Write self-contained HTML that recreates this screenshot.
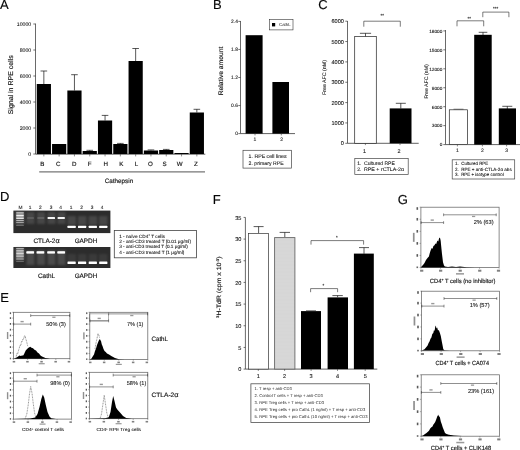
<!DOCTYPE html>
<html><head><meta charset="utf-8"><title>Figure</title>
<style>
html,body{margin:0;padding:0;background:#fff;}
body{width:520px;height:450px;overflow:hidden;font-family:"Liberation Sans",sans-serif;}
svg{display:block;filter:blur(0.3px);}
svg text{font-family:"Liberation Sans",sans-serif;text-rendering:geometricPrecision;}
svg text.b{stroke:#222;stroke-width:0.16px;}
svg text.m{stroke:#222;stroke-width:0.09px;}
</style></head><body>
<svg width="520" height="450" viewBox="0 0 520 450">
<rect width="520" height="450" fill="#fff"/>
<text x="0" y="9.3" font-size="13" text-anchor="start" fill="#000" class="b" >A</text>
<text x="212.9" y="9.3" font-size="13" text-anchor="start" fill="#000" class="b" >B</text>
<text x="318.2" y="9.4" font-size="13" text-anchor="start" fill="#000" class="b" >C</text>
<text x="0" y="201" font-size="13" text-anchor="start" fill="#000" class="b" >D</text>
<text x="0.2" y="301.9" font-size="13" text-anchor="start" fill="#000" class="b" >E</text>
<text x="212.7" y="203.5" font-size="13" text-anchor="start" fill="#000" class="b" >F</text>
<text x="397.8" y="203.6" font-size="13" text-anchor="start" fill="#000" class="b" >G</text>
<line x1="35.5" y1="23.6" x2="35.5" y2="154" stroke="#383838" stroke-width="0.75"/>
<line x1="35.5" y1="154.2" x2="205.3" y2="154.2" stroke="#383838" stroke-width="0.8"/>
<line x1="33.3" y1="154" x2="35.5" y2="154" stroke="#383838" stroke-width="0.7"/>
<text x="31.2" y="155.9" font-size="5.2" text-anchor="end" fill="#111" class="m" >0</text>
<line x1="33.3" y1="128" x2="35.5" y2="128" stroke="#383838" stroke-width="0.7"/>
<text x="31.2" y="129.9" font-size="5.2" text-anchor="end" fill="#111" class="m" >2000</text>
<line x1="33.3" y1="102" x2="35.5" y2="102" stroke="#383838" stroke-width="0.7"/>
<text x="31.2" y="103.9" font-size="5.2" text-anchor="end" fill="#111" class="m" >4000</text>
<line x1="33.3" y1="76" x2="35.5" y2="76" stroke="#383838" stroke-width="0.7"/>
<text x="31.2" y="77.9" font-size="5.2" text-anchor="end" fill="#111" class="m" >6000</text>
<line x1="33.3" y1="50" x2="35.5" y2="50" stroke="#383838" stroke-width="0.7"/>
<text x="31.2" y="51.9" font-size="5.2" text-anchor="end" fill="#111" class="m" >8000</text>
<line x1="33.3" y1="24" x2="35.5" y2="24" stroke="#383838" stroke-width="0.7"/>
<text x="31.2" y="25.9" font-size="5.2" text-anchor="end" fill="#111" class="m" >10000</text>
<text transform="translate(13.4,84.8) rotate(-90)" font-size="6.9" text-anchor="middle" fill="#111" textLength="59" lengthAdjust="spacingAndGlyphs" class="b">Signal in RPE cells</text>
<line x1="43.85" y1="71" x2="43.85" y2="84" stroke="#111" stroke-width="0.7"/>
<line x1="40.550000000000004" y1="71" x2="47.15" y2="71" stroke="#111" stroke-width="0.7"/>
<rect x="36.75" y="84" width="14.2" height="70" fill="#000" stroke="none" stroke-width="0.8"/>
<line x1="43.85" y1="154" x2="43.85" y2="156.4" stroke="#444" stroke-width="0.6"/>
<text x="42.3" y="166.4" font-size="6.2" text-anchor="middle" fill="#111" class="b" >B</text>
<rect x="52.050000000000004" y="144" width="14.2" height="10" fill="#000" stroke="none" stroke-width="0.8"/>
<line x1="59.150000000000006" y1="154" x2="59.150000000000006" y2="156.4" stroke="#444" stroke-width="0.6"/>
<text x="58.2" y="166.4" font-size="6.2" text-anchor="middle" fill="#111" class="b" >C</text>
<line x1="74.45" y1="74.7" x2="74.45" y2="90.5" stroke="#111" stroke-width="0.7"/>
<line x1="71.15" y1="74.7" x2="77.75" y2="74.7" stroke="#111" stroke-width="0.7"/>
<rect x="67.35000000000001" y="90.5" width="14.2" height="63.5" fill="#000" stroke="none" stroke-width="0.8"/>
<line x1="74.45" y1="154" x2="74.45" y2="156.4" stroke="#444" stroke-width="0.6"/>
<text x="74.2" y="166.4" font-size="6.2" text-anchor="middle" fill="#111" class="b" >D</text>
<line x1="89.75" y1="150.3" x2="89.75" y2="151" stroke="#111" stroke-width="0.7"/>
<line x1="86.45" y1="150.3" x2="93.05" y2="150.3" stroke="#111" stroke-width="0.7"/>
<rect x="82.65" y="151" width="14.2" height="3" fill="#000" stroke="none" stroke-width="0.8"/>
<line x1="89.75" y1="154" x2="89.75" y2="156.4" stroke="#444" stroke-width="0.6"/>
<text x="89.6" y="166.4" font-size="6.2" text-anchor="middle" fill="#111" class="b" >F</text>
<line x1="105.05000000000001" y1="115.4" x2="105.05000000000001" y2="120.5" stroke="#111" stroke-width="0.7"/>
<line x1="101.75000000000001" y1="115.4" x2="108.35000000000001" y2="115.4" stroke="#111" stroke-width="0.7"/>
<rect x="97.95000000000002" y="120.5" width="14.2" height="33.5" fill="#000" stroke="none" stroke-width="0.8"/>
<line x1="105.05000000000001" y1="154" x2="105.05000000000001" y2="156.4" stroke="#444" stroke-width="0.6"/>
<text x="105.8" y="166.4" font-size="6.2" text-anchor="middle" fill="#111" class="b" >H</text>
<line x1="120.35" y1="143.4" x2="120.35" y2="144" stroke="#111" stroke-width="0.7"/>
<line x1="117.05" y1="143.4" x2="123.64999999999999" y2="143.4" stroke="#111" stroke-width="0.7"/>
<rect x="113.25" y="144" width="14.2" height="10" fill="#000" stroke="none" stroke-width="0.8"/>
<line x1="120.35" y1="154" x2="120.35" y2="156.4" stroke="#444" stroke-width="0.6"/>
<text x="121.2" y="166.4" font-size="6.2" text-anchor="middle" fill="#111" class="b" >K</text>
<line x1="135.65" y1="48.5" x2="135.65" y2="61" stroke="#111" stroke-width="0.7"/>
<line x1="132.35" y1="48.5" x2="138.95000000000002" y2="48.5" stroke="#111" stroke-width="0.7"/>
<rect x="128.55" y="61" width="14.2" height="93" fill="#000" stroke="none" stroke-width="0.8"/>
<line x1="135.65" y1="154" x2="135.65" y2="156.4" stroke="#444" stroke-width="0.6"/>
<text x="136.6" y="166.4" font-size="6.2" text-anchor="middle" fill="#111" class="b" >L</text>
<line x1="150.95000000000002" y1="149.9" x2="150.95000000000002" y2="150.5" stroke="#111" stroke-width="0.7"/>
<line x1="147.65" y1="149.9" x2="154.25000000000003" y2="149.9" stroke="#111" stroke-width="0.7"/>
<rect x="143.85000000000002" y="150.5" width="14.2" height="3.5" fill="#000" stroke="none" stroke-width="0.8"/>
<line x1="150.95000000000002" y1="154" x2="150.95000000000002" y2="156.4" stroke="#444" stroke-width="0.6"/>
<text x="150.3" y="166.4" font-size="6.2" text-anchor="middle" fill="#111" class="b" >O</text>
<line x1="166.25" y1="149.4" x2="166.25" y2="150" stroke="#111" stroke-width="0.7"/>
<line x1="162.95" y1="149.4" x2="169.55" y2="149.4" stroke="#111" stroke-width="0.7"/>
<rect x="159.15" y="150" width="14.2" height="4" fill="#000" stroke="none" stroke-width="0.8"/>
<line x1="166.25" y1="154" x2="166.25" y2="156.4" stroke="#444" stroke-width="0.6"/>
<text x="164.6" y="166.4" font-size="6.2" text-anchor="middle" fill="#111" class="b" >S</text>
<rect x="174.45000000000002" y="153" width="14.2" height="1" fill="#000" stroke="none" stroke-width="0.8"/>
<line x1="181.55" y1="154" x2="181.55" y2="156.4" stroke="#444" stroke-width="0.6"/>
<text x="179.6" y="166.4" font-size="6.2" text-anchor="middle" fill="#111" class="b" >W</text>
<line x1="196.85" y1="109.3" x2="196.85" y2="112.5" stroke="#111" stroke-width="0.7"/>
<line x1="193.54999999999998" y1="109.3" x2="200.15" y2="109.3" stroke="#111" stroke-width="0.7"/>
<rect x="189.75" y="112.5" width="14.2" height="41.5" fill="#000" stroke="none" stroke-width="0.8"/>
<line x1="196.85" y1="154" x2="196.85" y2="156.4" stroke="#444" stroke-width="0.6"/>
<text x="195.8" y="166.4" font-size="6.2" text-anchor="middle" fill="#111" class="b" >Z</text>
<line x1="39.2" y1="171.8" x2="205" y2="171.8" stroke="#777" stroke-width="1.3"/>
<text x="119" y="183" font-size="6.3" text-anchor="middle" fill="#111" class="b" >Cathepsin</text>
<line x1="240.5" y1="21" x2="240.5" y2="133.6" stroke="#383838" stroke-width="0.75"/>
<line x1="240.5" y1="133.6" x2="295" y2="133.6" stroke="#383838" stroke-width="0.8"/>
<line x1="238.3" y1="133.6" x2="240.5" y2="133.6" stroke="#383838" stroke-width="0.7"/>
<text x="237.9" y="135.4" font-size="4.9" text-anchor="end" fill="#111" class="m" >0</text>
<line x1="238.3" y1="105.55" x2="240.5" y2="105.55" stroke="#383838" stroke-width="0.7"/>
<text x="237.9" y="107.35" font-size="4.9" text-anchor="end" fill="#111" class="m" >0.6</text>
<line x1="238.3" y1="77.5" x2="240.5" y2="77.5" stroke="#383838" stroke-width="0.7"/>
<text x="237.9" y="79.3" font-size="4.9" text-anchor="end" fill="#111" class="m" >1.2</text>
<line x1="238.3" y1="49.44999999999999" x2="240.5" y2="49.44999999999999" stroke="#383838" stroke-width="0.7"/>
<text x="237.9" y="51.249999999999986" font-size="4.9" text-anchor="end" fill="#111" class="m" >1.8</text>
<line x1="238.3" y1="21.39999999999999" x2="240.5" y2="21.39999999999999" stroke="#383838" stroke-width="0.7"/>
<text x="237.9" y="23.199999999999992" font-size="4.9" text-anchor="end" fill="#111" class="m" >2.4</text>
<text transform="translate(223.3,71) rotate(-90)" font-size="6.5" text-anchor="middle" fill="#111" textLength="48.6" lengthAdjust="spacingAndGlyphs" class="b">Relative amount</text>
<rect x="245.6" y="35.2" width="17" height="98.39999999999999" fill="#000" stroke="none" stroke-width="0.8"/>
<rect x="272.4" y="82" width="16.6" height="51.599999999999994" fill="#000" stroke="none" stroke-width="0.8"/>
<line x1="255" y1="133.6" x2="255" y2="135.4" stroke="#383838" stroke-width="0.6"/>
<line x1="281.3" y1="133.6" x2="281.3" y2="135.4" stroke="#383838" stroke-width="0.6"/>
<text x="255" y="141.2" font-size="5" text-anchor="middle" fill="#111" class="m" >1</text>
<text x="281.6" y="141.2" font-size="5" text-anchor="middle" fill="#111" class="m" >2</text>
<rect x="269.5" y="19.5" width="23.5" height="10.4" fill="#fff" stroke="#333" stroke-width="0.6"/>
<rect x="272" y="23" width="3.2" height="3.4" fill="#000" stroke="none" stroke-width="0.8"/>
<text x="279" y="26.3" font-size="4.3" text-anchor="start" fill="#111" textLength="11.6" lengthAdjust="spacingAndGlyphs" >CathL</text>
<rect x="243" y="150.3" width="48.4" height="17.8" fill="#fff" stroke="#444" stroke-width="0.7"/>
<text x="248.6" y="158.3" font-size="5.2" text-anchor="start" fill="#111" textLength="38" lengthAdjust="spacingAndGlyphs" class="m" >1. RPE cell lines</text>
<text x="248.6" y="164.5" font-size="5.2" text-anchor="start" fill="#111" textLength="35" lengthAdjust="spacingAndGlyphs" class="m" >2. primary RPE</text>
<line x1="347.5" y1="21" x2="347.5" y2="143.3" stroke="#383838" stroke-width="0.75"/>
<line x1="347.5" y1="143.3" x2="418.7" y2="143.3" stroke="#383838" stroke-width="0.8"/>
<line x1="345.3" y1="143.3" x2="347.5" y2="143.3" stroke="#383838" stroke-width="0.7"/>
<text x="343.9" y="145.4" font-size="5.6" text-anchor="end" fill="#111" class="m" >0</text>
<line x1="345.3" y1="122.95000000000002" x2="347.5" y2="122.95000000000002" stroke="#383838" stroke-width="0.7"/>
<text x="343.9" y="125.05000000000001" font-size="5.6" text-anchor="end" fill="#111" class="m" >1000</text>
<line x1="345.3" y1="102.60000000000001" x2="347.5" y2="102.60000000000001" stroke="#383838" stroke-width="0.7"/>
<text x="343.9" y="104.7" font-size="5.6" text-anchor="end" fill="#111" class="m" >2000</text>
<line x1="345.3" y1="82.25" x2="347.5" y2="82.25" stroke="#383838" stroke-width="0.7"/>
<text x="343.9" y="84.35" font-size="5.6" text-anchor="end" fill="#111" class="m" >3000</text>
<line x1="345.3" y1="61.900000000000006" x2="347.5" y2="61.900000000000006" stroke="#383838" stroke-width="0.7"/>
<text x="343.9" y="64.0" font-size="5.6" text-anchor="end" fill="#111" class="m" >4000</text>
<line x1="345.3" y1="41.55000000000001" x2="347.5" y2="41.55000000000001" stroke="#383838" stroke-width="0.7"/>
<text x="343.9" y="43.65000000000001" font-size="5.6" text-anchor="end" fill="#111" class="m" >5000</text>
<line x1="345.3" y1="21.200000000000003" x2="347.5" y2="21.200000000000003" stroke="#383838" stroke-width="0.7"/>
<text x="343.9" y="23.300000000000004" font-size="5.6" text-anchor="end" fill="#111" class="m" >6000</text>
<text transform="translate(326.2,77.5) rotate(-90)" font-size="5.2" text-anchor="middle" fill="#111" textLength="35" lengthAdjust="spacingAndGlyphs" class="m">Free AFC (nM)</text>
<line x1="365.5" y1="33.3" x2="365.5" y2="37" stroke="#111" stroke-width="0.7"/>
<line x1="359.9" y1="33.3" x2="371.1" y2="33.3" stroke="#111" stroke-width="0.7"/>
<rect x="354.7" y="36.4" width="21.6" height="106.9" fill="#fff" stroke="#222" stroke-width="0.7"/>
<line x1="400.8" y1="103.3" x2="400.8" y2="108.5" stroke="#111" stroke-width="0.7"/>
<line x1="395.8" y1="103.3" x2="405.8" y2="103.3" stroke="#111" stroke-width="0.7"/>
<rect x="389.7" y="108.4" width="21.8" height="34.900000000000006" fill="#000" stroke="none" stroke-width="0.8"/>
<polyline points="363.8,26.7 363.8,21.2 400.3,21.2 400.3,26.7" fill="none" stroke="#222" stroke-width="0.6"/>
<text x="382.3" y="17" font-size="4.5" text-anchor="middle" fill="#111" class="m" >**</text>
<line x1="365.4" y1="143.3" x2="365.4" y2="145.10000000000002" stroke="#383838" stroke-width="0.6"/>
<line x1="400" y1="143.3" x2="400" y2="145.10000000000002" stroke="#383838" stroke-width="0.6"/>
<text x="364.5" y="152.7" font-size="5.4" text-anchor="middle" fill="#111" class="m" >1</text>
<text x="399" y="152.7" font-size="5.4" text-anchor="middle" fill="#111" class="m" >2</text>
<rect x="354.8" y="158.5" width="53.4" height="15.9" fill="#fff" stroke="#444" stroke-width="0.7"/>
<text x="357.2" y="164.6" font-size="5.1" text-anchor="start" fill="#111" class="m" >1.</text>
<text x="364" y="164.6" font-size="5.1" text-anchor="start" fill="#111" textLength="30.8" lengthAdjust="spacingAndGlyphs" class="m" >Cultured RPE</text>
<text x="357.2" y="170.6" font-size="5.1" text-anchor="start" fill="#111" class="m" >2.</text>
<text x="364" y="170.6" font-size="5.1" text-anchor="start" fill="#111" textLength="40" lengthAdjust="spacingAndGlyphs" class="m" >RPE + rCTLA-2α</text>
<line x1="445.5" y1="30" x2="445.5" y2="144.6" stroke="#383838" stroke-width="0.75"/>
<line x1="445.5" y1="144.6" x2="520" y2="144.6" stroke="#383838" stroke-width="0.8"/>
<line x1="443.3" y1="144.6" x2="445.5" y2="144.6" stroke="#383838" stroke-width="0.7"/>
<text x="442.3" y="146.4" font-size="4.7" text-anchor="end" fill="#111" class="m" >0</text>
<line x1="443.3" y1="125.64999999999999" x2="445.5" y2="125.64999999999999" stroke="#383838" stroke-width="0.7"/>
<text x="442.3" y="127.44999999999999" font-size="4.7" text-anchor="end" fill="#111" class="m" >3000</text>
<line x1="443.3" y1="106.69999999999999" x2="445.5" y2="106.69999999999999" stroke="#383838" stroke-width="0.7"/>
<text x="442.3" y="108.49999999999999" font-size="4.7" text-anchor="end" fill="#111" class="m" >6000</text>
<line x1="443.3" y1="87.75" x2="445.5" y2="87.75" stroke="#383838" stroke-width="0.7"/>
<text x="442.3" y="89.55" font-size="4.7" text-anchor="end" fill="#111" class="m" >9000</text>
<line x1="443.3" y1="68.8" x2="445.5" y2="68.8" stroke="#383838" stroke-width="0.7"/>
<text x="442.3" y="70.6" font-size="4.7" text-anchor="end" fill="#111" class="m" >12000</text>
<line x1="443.3" y1="49.849999999999994" x2="445.5" y2="49.849999999999994" stroke="#383838" stroke-width="0.7"/>
<text x="442.3" y="51.64999999999999" font-size="4.7" text-anchor="end" fill="#111" class="m" >15000</text>
<line x1="443.3" y1="30.900000000000006" x2="445.5" y2="30.900000000000006" stroke="#383838" stroke-width="0.7"/>
<text x="442.3" y="32.7" font-size="4.7" text-anchor="end" fill="#111" class="m" >18000</text>
<text transform="translate(427.8,81.5) rotate(-90)" font-size="5.2" text-anchor="middle" fill="#111" textLength="34.7" lengthAdjust="spacingAndGlyphs" class="m">Free AFC (nM)</text>
<rect x="449.3" y="109.8" width="18.2" height="34.8" fill="#fff" stroke="#222" stroke-width="0.7"/>
<line x1="453.5" y1="109.2" x2="463.5" y2="109.2" stroke="#383838" stroke-width="0.6"/>
<line x1="483" y1="32.3" x2="483" y2="35.5" stroke="#111" stroke-width="0.7"/>
<line x1="478.7" y1="32.3" x2="487.3" y2="32.3" stroke="#111" stroke-width="0.7"/>
<rect x="474.2" y="34.8" width="17.5" height="109.8" fill="#000" stroke="none" stroke-width="0.8"/>
<line x1="507.3" y1="106.3" x2="507.3" y2="109" stroke="#111" stroke-width="0.7"/>
<line x1="502.3" y1="106.3" x2="512.3" y2="106.3" stroke="#111" stroke-width="0.7"/>
<rect x="498.8" y="108.4" width="17.2" height="36.19999999999999" fill="#000" stroke="none" stroke-width="0.8"/>
<polyline points="457,26.3 457,20.8 483.7,20.8 483.7,26.3" fill="none" stroke="#222" stroke-width="0.6"/>
<text x="469.3" y="20.2" font-size="4.5" text-anchor="middle" fill="#111" class="m" >**</text>
<polyline points="482.8,17.2 482.8,12.1 508.9,12.1 508.9,17.2" fill="none" stroke="#222" stroke-width="0.6"/>
<text x="495.6" y="9.6" font-size="4.5" text-anchor="middle" fill="#111" class="m" >***</text>
<line x1="457.4" y1="144.6" x2="457.4" y2="146.4" stroke="#383838" stroke-width="0.6"/>
<text x="457.4" y="152.3" font-size="5" text-anchor="middle" fill="#111" class="m" >1</text>
<line x1="482.4" y1="144.6" x2="482.4" y2="146.4" stroke="#383838" stroke-width="0.6"/>
<text x="482.4" y="152.3" font-size="5" text-anchor="middle" fill="#111" class="m" >2</text>
<line x1="506.6" y1="144.6" x2="506.6" y2="146.4" stroke="#383838" stroke-width="0.6"/>
<text x="506.6" y="152.3" font-size="5" text-anchor="middle" fill="#111" class="m" >3</text>
<rect x="452.2" y="159.8" width="62.5" height="19.2" fill="#fff" stroke="#444" stroke-width="0.7"/>
<text x="455.1" y="165" font-size="4.5" text-anchor="start" fill="#111" class="m" >1.</text>
<text x="461.2" y="165" font-size="4.5" text-anchor="start" fill="#111" textLength="27.1" lengthAdjust="spacingAndGlyphs" class="m" >Cultured RPE</text>
<text x="455.1" y="170.7" font-size="4.5" text-anchor="start" fill="#111" class="m" >2.</text>
<text x="461.2" y="170.7" font-size="4.5" text-anchor="start" fill="#111" textLength="50.5" lengthAdjust="spacingAndGlyphs" class="m" >RPE + anti-CTLA-2α abs</text>
<text x="455.1" y="176.2" font-size="4.5" text-anchor="start" fill="#111" class="m" >3.</text>
<text x="461.2" y="176.2" font-size="4.5" text-anchor="start" fill="#111" textLength="42.5" lengthAdjust="spacingAndGlyphs" class="m" >RPE + isotype control</text>
<defs><filter id="bl" x="-20%" y="-50%" width="140%" height="200%"><feGaussianBlur stdDeviation="0.45"/></filter><filter id="bl2" x="-20%" y="-20%" width="140%" height="140%"><feGaussianBlur stdDeviation="1.2"/></filter></defs>
<rect x="13.4" y="210.6" width="97" height="22.5" fill="#2c2c2c" stroke="none" stroke-width="0.8"/>
<rect x="13.4" y="247" width="97" height="21" fill="#2c2c2c" stroke="none" stroke-width="0.8"/>
<text x="20.4" y="208.7" font-size="4.8" text-anchor="middle" fill="#111" class="m" >M</text>
<text x="30.2" y="208.7" font-size="4.8" text-anchor="middle" fill="#111" class="m" >1</text>
<text x="40.3" y="208.7" font-size="4.8" text-anchor="middle" fill="#111" class="m" >2</text>
<text x="51" y="208.7" font-size="4.8" text-anchor="middle" fill="#111" class="m" >3</text>
<text x="60.5" y="208.7" font-size="4.8" text-anchor="middle" fill="#111" class="m" >4</text>
<text x="71" y="208.7" font-size="4.8" text-anchor="middle" fill="#111" class="m" >1</text>
<text x="81.5" y="208.7" font-size="4.8" text-anchor="middle" fill="#111" class="m" >2</text>
<text x="92" y="208.7" font-size="4.8" text-anchor="middle" fill="#111" class="m" >3</text>
<text x="102" y="208.7" font-size="4.8" text-anchor="middle" fill="#111" class="m" >4</text>
<g>
<rect x="26.5" y="212" width="8" height="12" rx="0.5" fill="#777" opacity="0.35" filter="url(#bl2)"/>
<rect x="37" y="212" width="8" height="12" rx="0.5" fill="#777" opacity="0.35" filter="url(#bl2)"/>
<rect x="47.5" y="212" width="8" height="12" rx="0.5" fill="#777" opacity="0.35" filter="url(#bl2)"/>
<rect x="57.5" y="212" width="8" height="12" rx="0.5" fill="#777" opacity="0.35" filter="url(#bl2)"/>
<rect x="67.5" y="216" width="8.5" height="9" rx="0.5" fill="#777" opacity="0.35" filter="url(#bl2)"/>
<rect x="78" y="216" width="8.5" height="9" rx="0.5" fill="#777" opacity="0.35" filter="url(#bl2)"/>
<rect x="88.7" y="216" width="8.5" height="9" rx="0.5" fill="#777" opacity="0.35" filter="url(#bl2)"/>
<rect x="99" y="216" width="8.5" height="9" rx="0.5" fill="#777" opacity="0.35" filter="url(#bl2)"/>
<rect x="26.5" y="250" width="8" height="15" rx="0.5" fill="#777" opacity="0.4" filter="url(#bl2)"/>
<rect x="37" y="250" width="8" height="15" rx="0.5" fill="#777" opacity="0.4" filter="url(#bl2)"/>
<rect x="47.5" y="250" width="8" height="15" rx="0.5" fill="#777" opacity="0.4" filter="url(#bl2)"/>
<rect x="57.5" y="250" width="8" height="15" rx="0.5" fill="#777" opacity="0.4" filter="url(#bl2)"/>
<rect x="67.5" y="254" width="8.5" height="8" rx="0.5" fill="#666" opacity="0.25" filter="url(#bl2)"/>
<rect x="78" y="254" width="8.5" height="8" rx="0.5" fill="#666" opacity="0.25" filter="url(#bl2)"/>
<rect x="88.7" y="254" width="8.5" height="8" rx="0.5" fill="#666" opacity="0.25" filter="url(#bl2)"/>
<rect x="99" y="254" width="8.5" height="8" rx="0.5" fill="#666" opacity="0.25" filter="url(#bl2)"/>
</g>
<rect x="15.6" y="211.2" width="8.6" height="13" rx="0.5" fill="#888" opacity="0.5" filter="url(#bl2)"/>
<rect x="16" y="211.9" width="8" height="0.9" rx="0.5" fill="#fff" opacity="0.7" filter="url(#bl)"/>
<rect x="16" y="213.5" width="8" height="0.9" rx="0.5" fill="#fff" opacity="0.8" filter="url(#bl)"/>
<rect x="16" y="215.1" width="8" height="0.9" rx="0.5" fill="#fff" opacity="0.9" filter="url(#bl)"/>
<rect x="16" y="216.5" width="8" height="0.9" rx="0.5" fill="#fff" opacity="1" filter="url(#bl)"/>
<rect x="16" y="218.1" width="8" height="0.9" rx="0.5" fill="#fff" opacity="0.85" filter="url(#bl)"/>
<rect x="16" y="219.9" width="8" height="0.9" rx="0.5" fill="#fff" opacity="0.75" filter="url(#bl)"/>
<rect x="16" y="222.2" width="8" height="0.9" rx="0.5" fill="#fff" opacity="0.6" filter="url(#bl)"/>
<rect x="16" y="224.79999999999998" width="8" height="0.9" rx="0.5" fill="#fff" opacity="0.35" filter="url(#bl)"/>
<rect x="15.6" y="247.6" width="8.6" height="13" rx="0.5" fill="#888" opacity="0.5" filter="url(#bl2)"/>
<rect x="16" y="248.3" width="8" height="0.9" rx="0.5" fill="#fff" opacity="0.7" filter="url(#bl)"/>
<rect x="16" y="249.9" width="8" height="0.9" rx="0.5" fill="#fff" opacity="0.8" filter="url(#bl)"/>
<rect x="16" y="251.5" width="8" height="0.9" rx="0.5" fill="#fff" opacity="0.9" filter="url(#bl)"/>
<rect x="16" y="252.9" width="8" height="0.9" rx="0.5" fill="#fff" opacity="1" filter="url(#bl)"/>
<rect x="16" y="254.5" width="8" height="0.9" rx="0.5" fill="#fff" opacity="0.85" filter="url(#bl)"/>
<rect x="16" y="256.3" width="8" height="0.9" rx="0.5" fill="#fff" opacity="0.75" filter="url(#bl)"/>
<rect x="16" y="258.6" width="8" height="0.9" rx="0.5" fill="#fff" opacity="0.6" filter="url(#bl)"/>
<rect x="16" y="261.2" width="8" height="0.9" rx="0.5" fill="#fff" opacity="0.35" filter="url(#bl)"/>
<rect x="27" y="216.9" width="7" height="2" rx="0.5" fill="#aaa" opacity="0.22" filter="url(#bl)"/>
<rect x="37.3" y="216.9" width="7" height="2" rx="0.5" fill="#aaa" opacity="0.26" filter="url(#bl)"/>
<rect x="47.6" y="216.9" width="7.4" height="2.1" rx="0.5" fill="#fff" opacity="0.95" filter="url(#bl)"/>
<rect x="57.6" y="216.9" width="7.2" height="2.1" rx="0.5" fill="#fff" opacity="0.95" filter="url(#bl)"/>
<rect x="67.5" y="225.7" width="8.2" height="2.4" rx="0.5" fill="#fff" opacity="1" filter="url(#bl)"/>
<rect x="68.0" y="226.1" width="7.2" height="1.6" rx="0.5" fill="#fff" opacity="1" filter="url(#bl)"/>
<rect x="78" y="225.7" width="8.2" height="2.4" rx="0.5" fill="#fff" opacity="1" filter="url(#bl)"/>
<rect x="78.5" y="226.1" width="7.2" height="1.6" rx="0.5" fill="#fff" opacity="1" filter="url(#bl)"/>
<rect x="88.7" y="225.7" width="8.2" height="2.4" rx="0.5" fill="#fff" opacity="1" filter="url(#bl)"/>
<rect x="89.2" y="226.1" width="7.2" height="1.6" rx="0.5" fill="#fff" opacity="1" filter="url(#bl)"/>
<rect x="99.2" y="225.7" width="8.2" height="2.4" rx="0.5" fill="#fff" opacity="1" filter="url(#bl)"/>
<rect x="99.7" y="226.1" width="7.2" height="1.6" rx="0.5" fill="#fff" opacity="1" filter="url(#bl)"/>
<rect x="26.3" y="251.3" width="7.8" height="2.3" rx="0.5" fill="#fff" opacity="1" filter="url(#bl)"/>
<rect x="26.8" y="251.7" width="6.8" height="1.5" rx="0.5" fill="#fff" opacity="1" filter="url(#bl)"/>
<rect x="36.5" y="251.3" width="7.8" height="2.3" rx="0.5" fill="#fff" opacity="1" filter="url(#bl)"/>
<rect x="37.0" y="251.7" width="6.8" height="1.5" rx="0.5" fill="#fff" opacity="1" filter="url(#bl)"/>
<rect x="47.2" y="251.3" width="7.8" height="2.3" rx="0.5" fill="#fff" opacity="0.95" filter="url(#bl)"/>
<rect x="47.7" y="251.7" width="6.8" height="1.5" rx="0.5" fill="#fff" opacity="0.95" filter="url(#bl)"/>
<rect x="57.3" y="251.3" width="7.8" height="2.3" rx="0.5" fill="#fff" opacity="1" filter="url(#bl)"/>
<rect x="57.8" y="251.7" width="6.8" height="1.5" rx="0.5" fill="#fff" opacity="1" filter="url(#bl)"/>
<rect x="67.5" y="261.5" width="8.2" height="2.4" rx="0.5" fill="#fff" opacity="1" filter="url(#bl)"/>
<rect x="68.0" y="261.9" width="7.2" height="1.6" rx="0.5" fill="#fff" opacity="1" filter="url(#bl)"/>
<rect x="78" y="261.5" width="8.2" height="2.4" rx="0.5" fill="#fff" opacity="1" filter="url(#bl)"/>
<rect x="78.5" y="261.9" width="7.2" height="1.6" rx="0.5" fill="#fff" opacity="1" filter="url(#bl)"/>
<rect x="88.7" y="261.5" width="8.2" height="2.4" rx="0.5" fill="#fff" opacity="1" filter="url(#bl)"/>
<rect x="89.2" y="261.9" width="7.2" height="1.6" rx="0.5" fill="#fff" opacity="1" filter="url(#bl)"/>
<rect x="99.2" y="261.5" width="8.2" height="2.4" rx="0.5" fill="#fff" opacity="1" filter="url(#bl)"/>
<rect x="99.7" y="261.9" width="7.2" height="1.6" rx="0.5" fill="#fff" opacity="1" filter="url(#bl)"/>
<text x="46.5" y="242.5" font-size="6.4" text-anchor="middle" fill="#111" class="b" >CTLA-2<tspan font-size="7.2">α</tspan></text>
<text x="86" y="242.5" font-size="6.4" text-anchor="middle" fill="#111" class="b" >GAPDH</text>
<text x="46.5" y="278" font-size="6.4" text-anchor="middle" fill="#111" class="b" >CathL</text>
<text x="86" y="278" font-size="6.4" text-anchor="middle" fill="#111" class="b" >GAPDH</text>
<rect x="114.3" y="230.5" width="82.2" height="27.3" fill="#fff" stroke="#444" stroke-width="0.8"/>
<text x="119.2" y="237.8" font-size="4.7" text-anchor="start" fill="#111" textLength="45.6" lengthAdjust="spacingAndGlyphs" class="m" >1 - naïve CD4<tspan dy="-1.5" font-size="3">+</tspan><tspan dy="1.5"> T cells</tspan></text>
<text x="119.2" y="243.10000000000002" font-size="4.7" text-anchor="start" fill="#111" textLength="71.8" lengthAdjust="spacingAndGlyphs" class="m" >2 - anti-CD3 treated T (0.01 μg/ml)</text>
<text x="119.2" y="248.4" font-size="4.7" text-anchor="start" fill="#111" textLength="68.6" lengthAdjust="spacingAndGlyphs" class="m" >3 - anti-CD3 treated T (0.1 μg/ml)</text>
<text x="119.2" y="253.70000000000002" font-size="4.7" text-anchor="start" fill="#111" textLength="65.2" lengthAdjust="spacingAndGlyphs" class="m" >4 - anti-CD3 treated T (1 μg/ml)</text>
<rect x="13.5" y="312.3" width="56.4" height="46.4" fill="#fff" stroke="#666" stroke-width="0.75"/>
<line x1="12.2" y1="358.7" x2="13.5" y2="358.7" stroke="#555" stroke-width="0.45"/>
<rect x="9.8" y="357.7" width="1.3" height="1.6" fill="#666" stroke="none" stroke-width="0.8"/>
<line x1="12.2" y1="352.9" x2="13.5" y2="352.9" stroke="#555" stroke-width="0.45"/>
<rect x="9.8" y="352.0" width="1.3" height="1.8" fill="#5a5a5a" stroke="none" stroke-width="0.8"/>
<line x1="12.2" y1="347.09999999999997" x2="13.5" y2="347.09999999999997" stroke="#555" stroke-width="0.45"/>
<rect x="9.8" y="346.2" width="1.3" height="1.8" fill="#5a5a5a" stroke="none" stroke-width="0.8"/>
<line x1="12.2" y1="341.3" x2="13.5" y2="341.3" stroke="#555" stroke-width="0.45"/>
<rect x="9.8" y="340.40000000000003" width="1.3" height="1.8" fill="#5a5a5a" stroke="none" stroke-width="0.8"/>
<line x1="12.2" y1="335.5" x2="13.5" y2="335.5" stroke="#555" stroke-width="0.45"/>
<rect x="9.8" y="334.6" width="1.3" height="1.8" fill="#5a5a5a" stroke="none" stroke-width="0.8"/>
<line x1="12.2" y1="329.7" x2="13.5" y2="329.7" stroke="#555" stroke-width="0.45"/>
<rect x="9.8" y="328.8" width="1.3" height="1.8" fill="#5a5a5a" stroke="none" stroke-width="0.8"/>
<line x1="12.2" y1="323.9" x2="13.5" y2="323.9" stroke="#555" stroke-width="0.45"/>
<rect x="9.8" y="323.0" width="1.3" height="1.8" fill="#5a5a5a" stroke="none" stroke-width="0.8"/>
<line x1="12.2" y1="318.09999999999997" x2="13.5" y2="318.09999999999997" stroke="#555" stroke-width="0.45"/>
<rect x="9.8" y="317.2" width="1.3" height="1.8" fill="#5a5a5a" stroke="none" stroke-width="0.8"/>
<line x1="12.2" y1="312.3" x2="13.5" y2="312.3" stroke="#555" stroke-width="0.45"/>
<rect x="9.8" y="312.3" width="1.3" height="1.8" fill="#5a5a5a" stroke="none" stroke-width="0.8"/>
<line x1="13.5" y1="358.7" x2="13.5" y2="360.0" stroke="#555" stroke-width="0.45"/>
<rect x="12.7" y="360.9" width="2.5" height="1.6" fill="#808080" stroke="none" stroke-width="0.8"/>
<line x1="27.6" y1="358.7" x2="27.6" y2="360.0" stroke="#555" stroke-width="0.45"/>
<rect x="26.200000000000003" y="360.9" width="2.5" height="1.6" fill="#808080" stroke="none" stroke-width="0.8"/>
<line x1="41.7" y1="358.7" x2="41.7" y2="360.0" stroke="#555" stroke-width="0.45"/>
<rect x="40.300000000000004" y="360.9" width="2.5" height="1.6" fill="#808080" stroke="none" stroke-width="0.8"/>
<line x1="55.8" y1="358.7" x2="55.8" y2="360.0" stroke="#555" stroke-width="0.45"/>
<rect x="54.4" y="360.9" width="2.5" height="1.6" fill="#808080" stroke="none" stroke-width="0.8"/>
<line x1="69.9" y1="358.7" x2="69.9" y2="360.0" stroke="#555" stroke-width="0.45"/>
<rect x="67.7" y="360.9" width="2.5" height="1.6" fill="#808080" stroke="none" stroke-width="0.8"/>
<rect x="38.7" y="363.09999999999997" width="6" height="1.2" fill="#999" stroke="none" stroke-width="0.8"/>
<rect x="6.9" y="332.0" width="1.4" height="7" fill="#909090" stroke="none" stroke-width="0.8"/>
<polyline points="16,357.5 16.8,353.5 17.6,354 18.5,350.5 19.3,348 20,345 20.8,345.6 21.5,341.5 22.2,342 23,338.5 23.7,339 24.5,335.5 25.2,336 25.8,339 26.5,341 27.2,344 27.8,346.5" fill="none" stroke="#444" stroke-width="0.6" stroke-dasharray="0.9,0.7"/>
<polygon points="13.8,358.7 15.8,358 17,357.3 19.5,355.6 20.8,356 22,355.4 23.2,355.6 24,354.3 25,352 26,350 27,349.2 28,348 29,347.6 30.2,346.8 31.5,347.8 33,348.3 34.5,349.8 36,350.5 37.5,352.5 39,353.5 40.5,355.5 42,356.5 45.4,358 50,358.7" fill="#000"/>
<line x1="13.5" y1="324.1" x2="30.7" y2="324.1" stroke="#333" stroke-width="0.55"/>
<line x1="13.7" y1="322.70000000000005" x2="13.7" y2="325.5" stroke="#333" stroke-width="0.55"/>
<line x1="30.7" y1="322.70000000000005" x2="30.7" y2="325.5" stroke="#333" stroke-width="0.55"/>
<rect x="20.5" y="320.90000000000003" width="3.2" height="1.4" fill="#999" stroke="none" stroke-width="0.8"/>
<line x1="30.7" y1="315.6" x2="69.9" y2="315.6" stroke="#333" stroke-width="0.55"/>
<line x1="30.7" y1="314.20000000000005" x2="30.7" y2="317.0" stroke="#333" stroke-width="0.55"/>
<line x1="69.7" y1="314.20000000000005" x2="69.7" y2="317.0" stroke="#333" stroke-width="0.55"/>
<rect x="52.300000000000004" y="316.6" width="3.2" height="1.3" fill="#999" stroke="none" stroke-width="0.8"/>
<text x="56" y="325.6" font-size="5.6" text-anchor="middle" fill="#111" class="m" >50% (3)</text>
<rect x="89.8" y="312.3" width="58" height="47.1" fill="#fff" stroke="#666" stroke-width="0.75"/>
<line x1="88.5" y1="359.40000000000003" x2="89.8" y2="359.40000000000003" stroke="#555" stroke-width="0.45"/>
<rect x="86.1" y="358.40000000000003" width="1.3" height="1.6" fill="#666" stroke="none" stroke-width="0.8"/>
<line x1="88.5" y1="353.51250000000005" x2="89.8" y2="353.51250000000005" stroke="#555" stroke-width="0.45"/>
<rect x="86.1" y="352.61250000000007" width="1.3" height="1.8" fill="#5a5a5a" stroke="none" stroke-width="0.8"/>
<line x1="88.5" y1="347.62500000000006" x2="89.8" y2="347.62500000000006" stroke="#555" stroke-width="0.45"/>
<rect x="86.1" y="346.7250000000001" width="1.3" height="1.8" fill="#5a5a5a" stroke="none" stroke-width="0.8"/>
<line x1="88.5" y1="341.7375" x2="89.8" y2="341.7375" stroke="#555" stroke-width="0.45"/>
<rect x="86.1" y="340.83750000000003" width="1.3" height="1.8" fill="#5a5a5a" stroke="none" stroke-width="0.8"/>
<line x1="88.5" y1="335.85" x2="89.8" y2="335.85" stroke="#555" stroke-width="0.45"/>
<rect x="86.1" y="334.95000000000005" width="1.3" height="1.8" fill="#5a5a5a" stroke="none" stroke-width="0.8"/>
<line x1="88.5" y1="329.96250000000003" x2="89.8" y2="329.96250000000003" stroke="#555" stroke-width="0.45"/>
<rect x="86.1" y="329.06250000000006" width="1.3" height="1.8" fill="#5a5a5a" stroke="none" stroke-width="0.8"/>
<line x1="88.5" y1="324.07500000000005" x2="89.8" y2="324.07500000000005" stroke="#555" stroke-width="0.45"/>
<rect x="86.1" y="323.17500000000007" width="1.3" height="1.8" fill="#5a5a5a" stroke="none" stroke-width="0.8"/>
<line x1="88.5" y1="318.18750000000006" x2="89.8" y2="318.18750000000006" stroke="#555" stroke-width="0.45"/>
<rect x="86.1" y="317.2875000000001" width="1.3" height="1.8" fill="#5a5a5a" stroke="none" stroke-width="0.8"/>
<line x1="88.5" y1="312.3" x2="89.8" y2="312.3" stroke="#555" stroke-width="0.45"/>
<rect x="86.1" y="312.3" width="1.3" height="1.8" fill="#5a5a5a" stroke="none" stroke-width="0.8"/>
<line x1="89.8" y1="359.40000000000003" x2="89.8" y2="360.70000000000005" stroke="#555" stroke-width="0.45"/>
<rect x="88.99999999999999" y="361.6" width="2.5" height="1.6" fill="#808080" stroke="none" stroke-width="0.8"/>
<line x1="104.3" y1="359.40000000000003" x2="104.3" y2="360.70000000000005" stroke="#555" stroke-width="0.45"/>
<rect x="102.89999999999999" y="361.6" width="2.5" height="1.6" fill="#808080" stroke="none" stroke-width="0.8"/>
<line x1="118.8" y1="359.40000000000003" x2="118.8" y2="360.70000000000005" stroke="#555" stroke-width="0.45"/>
<rect x="117.39999999999999" y="361.6" width="2.5" height="1.6" fill="#808080" stroke="none" stroke-width="0.8"/>
<line x1="133.3" y1="359.40000000000003" x2="133.3" y2="360.70000000000005" stroke="#555" stroke-width="0.45"/>
<rect x="131.9" y="361.6" width="2.5" height="1.6" fill="#808080" stroke="none" stroke-width="0.8"/>
<line x1="147.8" y1="359.40000000000003" x2="147.8" y2="360.70000000000005" stroke="#555" stroke-width="0.45"/>
<rect x="145.6" y="361.6" width="2.5" height="1.6" fill="#808080" stroke="none" stroke-width="0.8"/>
<rect x="115.8" y="363.8" width="6" height="1.2" fill="#999" stroke="none" stroke-width="0.8"/>
<rect x="83.2" y="332.35" width="1.4" height="7" fill="#909090" stroke="none" stroke-width="0.8"/>
<polyline points="95,349 95.8,344 96.5,341 97.3,337 98,333.5 98.8,335 99.5,337.5" fill="none" stroke="#444" stroke-width="0.6" stroke-dasharray="0.9,0.7"/>
<polygon points="90,359.4 91.5,358.6 93,356 94,354.5 95,351 96,348.5 97,345 98,342.5 98.8,340.5 99.9,339 100.6,340.5 101,341 101.8,344.5 102.5,346 103.5,349 104.5,351 105.7,352 107,353.5 109,354.6 111.7,356.2 115,358 119,359.2 125,359.4" fill="#000"/>
<line x1="89.8" y1="320.9" x2="108.6" y2="320.9" stroke="#333" stroke-width="0.55"/>
<line x1="90.0" y1="319.5" x2="90.0" y2="322.29999999999995" stroke="#333" stroke-width="0.55"/>
<line x1="108.6" y1="319.5" x2="108.6" y2="322.29999999999995" stroke="#333" stroke-width="0.55"/>
<rect x="97.6" y="317.7" width="3.2" height="1.4" fill="#999" stroke="none" stroke-width="0.8"/>
<line x1="108.6" y1="313.9" x2="147.8" y2="313.9" stroke="#333" stroke-width="0.55"/>
<line x1="108.6" y1="312.5" x2="108.6" y2="315.29999999999995" stroke="#333" stroke-width="0.55"/>
<line x1="147.60000000000002" y1="312.5" x2="147.60000000000002" y2="315.29999999999995" stroke="#333" stroke-width="0.55"/>
<rect x="130.2" y="314.9" width="3.2" height="1.3" fill="#999" stroke="none" stroke-width="0.8"/>
<text x="135.2" y="325.6" font-size="5.6" text-anchor="middle" fill="#111" class="m" >7% (1)</text>
<rect x="89.8" y="313.9" width="18.8" height="7" fill="none" stroke="#555" stroke-width="0.45"/>
<rect x="13.5" y="372.3" width="58.1" height="46.8" fill="#fff" stroke="#666" stroke-width="0.75"/>
<line x1="12.2" y1="419.1" x2="13.5" y2="419.1" stroke="#555" stroke-width="0.45"/>
<rect x="9.8" y="418.1" width="1.3" height="1.6" fill="#666" stroke="none" stroke-width="0.8"/>
<line x1="12.2" y1="413.25" x2="13.5" y2="413.25" stroke="#555" stroke-width="0.45"/>
<rect x="9.8" y="412.35" width="1.3" height="1.8" fill="#5a5a5a" stroke="none" stroke-width="0.8"/>
<line x1="12.2" y1="407.40000000000003" x2="13.5" y2="407.40000000000003" stroke="#555" stroke-width="0.45"/>
<rect x="9.8" y="406.50000000000006" width="1.3" height="1.8" fill="#5a5a5a" stroke="none" stroke-width="0.8"/>
<line x1="12.2" y1="401.55" x2="13.5" y2="401.55" stroke="#555" stroke-width="0.45"/>
<rect x="9.8" y="400.65000000000003" width="1.3" height="1.8" fill="#5a5a5a" stroke="none" stroke-width="0.8"/>
<line x1="12.2" y1="395.70000000000005" x2="13.5" y2="395.70000000000005" stroke="#555" stroke-width="0.45"/>
<rect x="9.8" y="394.80000000000007" width="1.3" height="1.8" fill="#5a5a5a" stroke="none" stroke-width="0.8"/>
<line x1="12.2" y1="389.85" x2="13.5" y2="389.85" stroke="#555" stroke-width="0.45"/>
<rect x="9.8" y="388.95000000000005" width="1.3" height="1.8" fill="#5a5a5a" stroke="none" stroke-width="0.8"/>
<line x1="12.2" y1="384.0" x2="13.5" y2="384.0" stroke="#555" stroke-width="0.45"/>
<rect x="9.8" y="383.1" width="1.3" height="1.8" fill="#5a5a5a" stroke="none" stroke-width="0.8"/>
<line x1="12.2" y1="378.15000000000003" x2="13.5" y2="378.15000000000003" stroke="#555" stroke-width="0.45"/>
<rect x="9.8" y="377.25000000000006" width="1.3" height="1.8" fill="#5a5a5a" stroke="none" stroke-width="0.8"/>
<line x1="12.2" y1="372.3" x2="13.5" y2="372.3" stroke="#555" stroke-width="0.45"/>
<rect x="9.8" y="372.3" width="1.3" height="1.8" fill="#5a5a5a" stroke="none" stroke-width="0.8"/>
<line x1="13.5" y1="419.1" x2="13.5" y2="420.40000000000003" stroke="#555" stroke-width="0.45"/>
<rect x="12.7" y="421.3" width="2.5" height="1.6" fill="#808080" stroke="none" stroke-width="0.8"/>
<line x1="28.025" y1="419.1" x2="28.025" y2="420.40000000000003" stroke="#555" stroke-width="0.45"/>
<rect x="26.625" y="421.3" width="2.5" height="1.6" fill="#808080" stroke="none" stroke-width="0.8"/>
<line x1="42.55" y1="419.1" x2="42.55" y2="420.40000000000003" stroke="#555" stroke-width="0.45"/>
<rect x="41.15" y="421.3" width="2.5" height="1.6" fill="#808080" stroke="none" stroke-width="0.8"/>
<line x1="57.075" y1="419.1" x2="57.075" y2="420.40000000000003" stroke="#555" stroke-width="0.45"/>
<rect x="55.675000000000004" y="421.3" width="2.5" height="1.6" fill="#808080" stroke="none" stroke-width="0.8"/>
<line x1="71.6" y1="419.1" x2="71.6" y2="420.40000000000003" stroke="#555" stroke-width="0.45"/>
<rect x="69.39999999999999" y="421.3" width="2.5" height="1.6" fill="#808080" stroke="none" stroke-width="0.8"/>
<rect x="39.55" y="423.5" width="6" height="1.2" fill="#999" stroke="none" stroke-width="0.8"/>
<rect x="6.9" y="392.2" width="1.4" height="7" fill="#909090" stroke="none" stroke-width="0.8"/>
<polyline points="25.2,418.5 26.8,414 28.2,405 29.5,394 30.7,386.6 32,393 33.3,404 34.6,413 36,418.3" fill="none" stroke="#444" stroke-width="0.6" stroke-dasharray="0.9,0.7"/>
<polygon points="13.8,419.1 30,418.6 35.3,417.5 37.5,414 39.5,407 41.3,399 42.8,394.6 44.2,397.5 45.8,405 47.5,412 49.5,416.5 51.2,418.3 56,419.1" fill="#000"/>
<line x1="13.5" y1="381.2" x2="37" y2="381.2" stroke="#333" stroke-width="0.55"/>
<line x1="13.7" y1="379.8" x2="13.7" y2="382.59999999999997" stroke="#333" stroke-width="0.55"/>
<line x1="37" y1="379.8" x2="37" y2="382.59999999999997" stroke="#333" stroke-width="0.55"/>
<rect x="23.65" y="378.0" width="3.2" height="1.4" fill="#999" stroke="none" stroke-width="0.8"/>
<line x1="37" y1="375.1" x2="71.6" y2="375.1" stroke="#333" stroke-width="0.55"/>
<line x1="37" y1="373.70000000000005" x2="37" y2="376.5" stroke="#333" stroke-width="0.55"/>
<line x1="71.39999999999999" y1="373.70000000000005" x2="71.39999999999999" y2="376.5" stroke="#333" stroke-width="0.55"/>
<rect x="56.3" y="376.1" width="3.2" height="1.3" fill="#999" stroke="none" stroke-width="0.8"/>
<text x="60" y="385.1" font-size="5.6" text-anchor="middle" fill="#111" class="m" >98% (0)</text>
<rect x="89.4" y="372.3" width="58.4" height="46.4" fill="#fff" stroke="#666" stroke-width="0.75"/>
<line x1="88.10000000000001" y1="418.7" x2="89.4" y2="418.7" stroke="#555" stroke-width="0.45"/>
<rect x="85.7" y="417.7" width="1.3" height="1.6" fill="#666" stroke="none" stroke-width="0.8"/>
<line x1="88.10000000000001" y1="412.9" x2="89.4" y2="412.9" stroke="#555" stroke-width="0.45"/>
<rect x="85.7" y="412.0" width="1.3" height="1.8" fill="#5a5a5a" stroke="none" stroke-width="0.8"/>
<line x1="88.10000000000001" y1="407.09999999999997" x2="89.4" y2="407.09999999999997" stroke="#555" stroke-width="0.45"/>
<rect x="85.7" y="406.2" width="1.3" height="1.8" fill="#5a5a5a" stroke="none" stroke-width="0.8"/>
<line x1="88.10000000000001" y1="401.3" x2="89.4" y2="401.3" stroke="#555" stroke-width="0.45"/>
<rect x="85.7" y="400.40000000000003" width="1.3" height="1.8" fill="#5a5a5a" stroke="none" stroke-width="0.8"/>
<line x1="88.10000000000001" y1="395.5" x2="89.4" y2="395.5" stroke="#555" stroke-width="0.45"/>
<rect x="85.7" y="394.6" width="1.3" height="1.8" fill="#5a5a5a" stroke="none" stroke-width="0.8"/>
<line x1="88.10000000000001" y1="389.7" x2="89.4" y2="389.7" stroke="#555" stroke-width="0.45"/>
<rect x="85.7" y="388.8" width="1.3" height="1.8" fill="#5a5a5a" stroke="none" stroke-width="0.8"/>
<line x1="88.10000000000001" y1="383.9" x2="89.4" y2="383.9" stroke="#555" stroke-width="0.45"/>
<rect x="85.7" y="383.0" width="1.3" height="1.8" fill="#5a5a5a" stroke="none" stroke-width="0.8"/>
<line x1="88.10000000000001" y1="378.09999999999997" x2="89.4" y2="378.09999999999997" stroke="#555" stroke-width="0.45"/>
<rect x="85.7" y="377.2" width="1.3" height="1.8" fill="#5a5a5a" stroke="none" stroke-width="0.8"/>
<line x1="88.10000000000001" y1="372.3" x2="89.4" y2="372.3" stroke="#555" stroke-width="0.45"/>
<rect x="85.7" y="372.3" width="1.3" height="1.8" fill="#5a5a5a" stroke="none" stroke-width="0.8"/>
<line x1="89.4" y1="418.7" x2="89.4" y2="420.0" stroke="#555" stroke-width="0.45"/>
<rect x="88.6" y="420.9" width="2.5" height="1.6" fill="#808080" stroke="none" stroke-width="0.8"/>
<line x1="104.0" y1="418.7" x2="104.0" y2="420.0" stroke="#555" stroke-width="0.45"/>
<rect x="102.6" y="420.9" width="2.5" height="1.6" fill="#808080" stroke="none" stroke-width="0.8"/>
<line x1="118.60000000000001" y1="418.7" x2="118.60000000000001" y2="420.0" stroke="#555" stroke-width="0.45"/>
<rect x="117.2" y="420.9" width="2.5" height="1.6" fill="#808080" stroke="none" stroke-width="0.8"/>
<line x1="133.2" y1="418.7" x2="133.2" y2="420.0" stroke="#555" stroke-width="0.45"/>
<rect x="131.79999999999998" y="420.9" width="2.5" height="1.6" fill="#808080" stroke="none" stroke-width="0.8"/>
<line x1="147.8" y1="418.7" x2="147.8" y2="420.0" stroke="#555" stroke-width="0.45"/>
<rect x="145.6" y="420.9" width="2.5" height="1.6" fill="#808080" stroke="none" stroke-width="0.8"/>
<rect x="115.60000000000001" y="423.09999999999997" width="6" height="1.2" fill="#999" stroke="none" stroke-width="0.8"/>
<rect x="82.80000000000001" y="392.0" width="1.4" height="7" fill="#909090" stroke="none" stroke-width="0.8"/>
<polyline points="100.2,418 101.5,414 102.8,405 104.2,395.3 105.5,404 106.8,413 108.5,418" fill="none" stroke="#444" stroke-width="0.6" stroke-dasharray="0.9,0.7"/>
<polygon points="89.6,418.7 105,418.3 108.8,417.3 110.5,412 112,402 113.2,396 114.5,401 116,407.5 117.5,409.7 120,412.5 123,416 126.2,418 132,418.7" fill="#000"/>
<line x1="89.4" y1="386.9" x2="113.2" y2="386.9" stroke="#333" stroke-width="0.55"/>
<line x1="89.60000000000001" y1="385.5" x2="89.60000000000001" y2="388.29999999999995" stroke="#333" stroke-width="0.55"/>
<line x1="113.2" y1="385.5" x2="113.2" y2="388.29999999999995" stroke="#333" stroke-width="0.55"/>
<rect x="99.70000000000002" y="383.7" width="3.2" height="1.4" fill="#999" stroke="none" stroke-width="0.8"/>
<line x1="113.2" y1="375.1" x2="147.8" y2="375.1" stroke="#333" stroke-width="0.55"/>
<line x1="113.2" y1="373.70000000000005" x2="113.2" y2="376.5" stroke="#333" stroke-width="0.55"/>
<line x1="147.60000000000002" y1="373.70000000000005" x2="147.60000000000002" y2="376.5" stroke="#333" stroke-width="0.55"/>
<rect x="132.5" y="376.1" width="3.2" height="1.3" fill="#999" stroke="none" stroke-width="0.8"/>
<text x="136.5" y="385.1" font-size="5.6" text-anchor="middle" fill="#111" class="m" >58% (1)</text>
<text x="151.5" y="340.8" font-size="6.3" text-anchor="start" fill="#111" textLength="16.5" lengthAdjust="spacingAndGlyphs" class="b" >CathL</text>
<text x="151.5" y="396.8" font-size="6.3" text-anchor="start" fill="#111" textLength="27" lengthAdjust="spacingAndGlyphs" class="b" >CTLA-2<tspan font-size="7">α</tspan></text>
<text x="22" y="431" font-size="4.4" text-anchor="start" fill="#111" textLength="42" lengthAdjust="spacingAndGlyphs" class="m" >CD4<tspan dy="-1.3" font-size="2.8">+</tspan><tspan dy="1.3"> control T cells</tspan></text>
<text x="96.5" y="431" font-size="4.4" text-anchor="start" fill="#111" textLength="44.5" lengthAdjust="spacingAndGlyphs" class="m" >CD4<tspan dy="-1.3" font-size="2.8">+</tspan><tspan dy="1.3"> RPE Treg cells</tspan></text>
<line x1="245.4" y1="217.4" x2="245.4" y2="369.1" stroke="#383838" stroke-width="0.75"/>
<line x1="245.4" y1="369.1" x2="377.3" y2="369.1" stroke="#383838" stroke-width="0.8"/>
<line x1="243.6" y1="369.1" x2="245.4" y2="369.1" stroke="#383838" stroke-width="0.7"/>
<text x="241.4" y="371.20000000000005" font-size="5.6" text-anchor="end" fill="#111" class="m" >0</text>
<line x1="243.6" y1="347.43" x2="245.4" y2="347.43" stroke="#383838" stroke-width="0.7"/>
<text x="241.4" y="349.53000000000003" font-size="5.6" text-anchor="end" fill="#111" class="m" >5</text>
<line x1="243.6" y1="325.76" x2="245.4" y2="325.76" stroke="#383838" stroke-width="0.7"/>
<text x="241.4" y="327.86" font-size="5.6" text-anchor="end" fill="#111" class="m" >10</text>
<line x1="243.6" y1="304.09000000000003" x2="245.4" y2="304.09000000000003" stroke="#383838" stroke-width="0.7"/>
<text x="241.4" y="306.19000000000005" font-size="5.6" text-anchor="end" fill="#111" class="m" >15</text>
<line x1="243.6" y1="282.42" x2="245.4" y2="282.42" stroke="#383838" stroke-width="0.7"/>
<text x="241.4" y="284.52000000000004" font-size="5.6" text-anchor="end" fill="#111" class="m" >20</text>
<line x1="243.6" y1="260.75" x2="245.4" y2="260.75" stroke="#383838" stroke-width="0.7"/>
<text x="241.4" y="262.85" font-size="5.6" text-anchor="end" fill="#111" class="m" >25</text>
<line x1="243.6" y1="239.08" x2="245.4" y2="239.08" stroke="#383838" stroke-width="0.7"/>
<text x="241.4" y="241.18" font-size="5.6" text-anchor="end" fill="#111" class="m" >30</text>
<line x1="243.6" y1="217.41000000000003" x2="245.4" y2="217.41000000000003" stroke="#383838" stroke-width="0.7"/>
<text x="241.4" y="219.51000000000002" font-size="5.6" text-anchor="end" fill="#111" class="m" >35</text>
<text transform="translate(220.8,287.2) rotate(-90)" font-size="6.3" text-anchor="middle" fill="#111" textLength="61.5" lengthAdjust="spacingAndGlyphs" class="b"><tspan font-size="3.8" dy="-2">3</tspan><tspan dy="2">H-TdR (cpm x 10</tspan><tspan font-size="3.8" dy="-2">-3</tspan><tspan dy="2">)</tspan></text>
<line x1="258.6" y1="226.6" x2="258.6" y2="233.3" stroke="#111" stroke-width="0.7"/>
<line x1="253.60000000000002" y1="226.6" x2="263.6" y2="226.6" stroke="#111" stroke-width="0.7"/>
<rect x="248.6" y="233.4" width="20" height="135.70000000000002" fill="#fff" stroke="#333" stroke-width="0.7"/>
<defs><pattern id="dots" width="1.4" height="1.4" patternUnits="userSpaceOnUse"><rect width="1.4" height="1.4" fill="#dcdcdc"/><circle cx="0.7" cy="0.7" r="0.3" fill="#b0b0b0"/></pattern></defs>
<line x1="284.8" y1="232.4" x2="284.8" y2="237.3" stroke="#111" stroke-width="0.7"/>
<line x1="279.6" y1="232.4" x2="290.0" y2="232.4" stroke="#111" stroke-width="0.7"/>
<rect x="274.6" y="237.6" width="20.3" height="131.50000000000003" fill="url(#dots)" stroke="#666" stroke-width="0.9"/>
<rect x="301" y="311.1" width="20" height="58.0" fill="#000" stroke="none" stroke-width="0.8"/>
<line x1="306" y1="310.6" x2="316" y2="310.6" stroke="#383838" stroke-width="0.6"/>
<line x1="337.6" y1="295.6" x2="337.6" y2="297.3" stroke="#111" stroke-width="0.7"/>
<line x1="332.40000000000003" y1="295.6" x2="342.8" y2="295.6" stroke="#111" stroke-width="0.7"/>
<rect x="327.6" y="297.4" width="20.4" height="71.70000000000005" fill="#000" stroke="none" stroke-width="0.8"/>
<line x1="364" y1="247.6" x2="364" y2="253.8" stroke="#111" stroke-width="0.7"/>
<line x1="359" y1="247.6" x2="369" y2="247.6" stroke="#111" stroke-width="0.7"/>
<rect x="353.9" y="253.6" width="19.9" height="115.50000000000003" fill="#000" stroke="none" stroke-width="0.8"/>
<polyline points="311,244.6 311,240.6 363.6,240.6 363.6,244.6" fill="none" stroke="#222" stroke-width="0.6"/>
<text x="337" y="239.4" font-size="4.5" text-anchor="middle" fill="#111" class="m" >*</text>
<polyline points="310.6,292.2 310.6,288.6 337.6,288.6 337.6,292.2" fill="none" stroke="#222" stroke-width="0.6"/>
<text x="323.4" y="287.2" font-size="4.5" text-anchor="middle" fill="#111" class="m" >*</text>
<line x1="258.3" y1="369.1" x2="258.3" y2="370.90000000000003" stroke="#383838" stroke-width="0.6"/>
<text x="258.3" y="377.8" font-size="5.6" text-anchor="middle" fill="#111" class="m" >1</text>
<line x1="284.6" y1="369.1" x2="284.6" y2="370.90000000000003" stroke="#383838" stroke-width="0.6"/>
<text x="284.6" y="377.8" font-size="5.6" text-anchor="middle" fill="#111" class="m" >2</text>
<line x1="311.1" y1="369.1" x2="311.1" y2="370.90000000000003" stroke="#383838" stroke-width="0.6"/>
<text x="311.1" y="377.8" font-size="5.6" text-anchor="middle" fill="#111" class="m" >3</text>
<line x1="337.5" y1="369.1" x2="337.5" y2="370.90000000000003" stroke="#383838" stroke-width="0.6"/>
<text x="337.5" y="377.8" font-size="5.6" text-anchor="middle" fill="#111" class="m" >4</text>
<line x1="365.2" y1="369.1" x2="365.2" y2="370.90000000000003" stroke="#383838" stroke-width="0.6"/>
<text x="365.2" y="377.8" font-size="5.6" text-anchor="middle" fill="#111" class="m" >5</text>
<rect x="250.9" y="383.8" width="118.6" height="38.8" fill="#fff" stroke="#444" stroke-width="0.75"/>
<text x="254.6" y="390.0" font-size="4.15" text-anchor="start" fill="#222" >1. T resp + anti-CD3</text>
<text x="254.6" y="397.08" font-size="4.15" text-anchor="start" fill="#222" >2. Control T cells + T resp + anti-CD3</text>
<text x="254.6" y="404.16" font-size="4.15" text-anchor="start" fill="#222" >3. RPE Treg cells + T resp + anti-CD3</text>
<text x="254.6" y="411.24" font-size="4.15" text-anchor="start" fill="#222" textLength="110.8" lengthAdjust="spacingAndGlyphs" >4. RPE Treg cells + pro CathL  (1 ng/ml) + T resp + anti-CD3</text>
<text x="254.6" y="418.32" font-size="4.15" text-anchor="start" fill="#222" textLength="112.9" lengthAdjust="spacingAndGlyphs" >5. RPE Treg cells + pro CathL  (10 ng/ml) + T resp + anti-CD3</text>
<rect x="420.9" y="207.2" width="78.2" height="60.3" fill="#fff" stroke="#666" stroke-width="0.75"/>
<line x1="419.59999999999997" y1="267.5" x2="420.9" y2="267.5" stroke="#555" stroke-width="0.45"/>
<rect x="416.5" y="266.5" width="1.6" height="1.6" fill="#666" stroke="none" stroke-width="0.8"/>
<line x1="419.59999999999997" y1="255.44" x2="420.9" y2="255.44" stroke="#555" stroke-width="0.45"/>
<rect x="416.5" y="254.14" width="1.6" height="2.6" fill="#5a5a5a" stroke="none" stroke-width="0.8"/>
<line x1="419.59999999999997" y1="243.38" x2="420.9" y2="243.38" stroke="#555" stroke-width="0.45"/>
<rect x="416.5" y="242.07999999999998" width="1.6" height="2.6" fill="#5a5a5a" stroke="none" stroke-width="0.8"/>
<line x1="419.59999999999997" y1="231.32" x2="420.9" y2="231.32" stroke="#555" stroke-width="0.45"/>
<rect x="416.5" y="230.01999999999998" width="1.6" height="2.6" fill="#5a5a5a" stroke="none" stroke-width="0.8"/>
<line x1="419.59999999999997" y1="219.26" x2="420.9" y2="219.26" stroke="#555" stroke-width="0.45"/>
<rect x="416.5" y="217.95999999999998" width="1.6" height="2.6" fill="#5a5a5a" stroke="none" stroke-width="0.8"/>
<line x1="419.59999999999997" y1="207.2" x2="420.9" y2="207.2" stroke="#555" stroke-width="0.45"/>
<rect x="416.5" y="207.2" width="1.6" height="2.6" fill="#5a5a5a" stroke="none" stroke-width="0.8"/>
<line x1="420.9" y1="267.5" x2="420.9" y2="268.8" stroke="#555" stroke-width="0.45"/>
<rect x="420.1" y="269.7" width="3.2" height="2.0" fill="#808080" stroke="none" stroke-width="0.8"/>
<line x1="440.45" y1="267.5" x2="440.45" y2="268.8" stroke="#555" stroke-width="0.45"/>
<rect x="439.05" y="269.7" width="3.2" height="2.0" fill="#808080" stroke="none" stroke-width="0.8"/>
<line x1="460.0" y1="267.5" x2="460.0" y2="268.8" stroke="#555" stroke-width="0.45"/>
<rect x="458.6" y="269.7" width="3.2" height="2.0" fill="#808080" stroke="none" stroke-width="0.8"/>
<line x1="479.54999999999995" y1="267.5" x2="479.54999999999995" y2="268.8" stroke="#555" stroke-width="0.45"/>
<rect x="478.15" y="269.7" width="3.2" height="2.0" fill="#808080" stroke="none" stroke-width="0.8"/>
<line x1="499.09999999999997" y1="267.5" x2="499.09999999999997" y2="268.8" stroke="#555" stroke-width="0.45"/>
<rect x="496.9" y="269.7" width="3.2" height="2.0" fill="#808080" stroke="none" stroke-width="0.8"/>
<rect x="456.0" y="273.1" width="8" height="1.5" fill="#999" stroke="none" stroke-width="0.8"/>
<rect x="412.9" y="232.85" width="1.7" height="9" fill="#909090" stroke="none" stroke-width="0.8"/>
<polygon points="421.1,267.5 421.5,266.5 423,265 424.5,263 426,260 427.5,258 428.9,256.6 429.8,253 430.6,250.5 431.7,248.1 432.6,248.8 433.4,246 434.5,245.3 435.4,243.4 436.2,244 437.4,240.6 438.3,241.4 439,238.6 439.6,237.4 440.2,238.4 440.7,241 441.1,245.3 442,254 443,262.3 444,265.4 444.9,266.4 448,267 452,266.6 456,267 460,266.5 466.6,267.2 475,267.5" fill="#000"/>
<line x1="420.9" y1="222.6" x2="443.6" y2="222.6" stroke="#333" stroke-width="0.55"/>
<line x1="421.09999999999997" y1="221.2" x2="421.09999999999997" y2="224.0" stroke="#333" stroke-width="0.55"/>
<line x1="443.6" y1="221.2" x2="443.6" y2="224.0" stroke="#333" stroke-width="0.55"/>
<rect x="430.65" y="219.4" width="3.2" height="1.4" fill="#999" stroke="none" stroke-width="0.8"/>
<line x1="443.6" y1="214.8" x2="496.4" y2="214.8" stroke="#333" stroke-width="0.55"/>
<line x1="443.6" y1="213.4" x2="443.6" y2="216.20000000000002" stroke="#333" stroke-width="0.55"/>
<line x1="496.2" y1="213.4" x2="496.2" y2="216.20000000000002" stroke="#333" stroke-width="0.55"/>
<rect x="472.0" y="215.8" width="3.2" height="1.3" fill="#999" stroke="none" stroke-width="0.8"/>
<text x="483.6" y="223.7" font-size="5.7" text-anchor="middle" fill="#111" class="m" >2% (63)</text>
<text x="462.6" y="282.5" font-size="6" text-anchor="middle" fill="#111" textLength="65.6" lengthAdjust="spacingAndGlyphs" class="b" >CD4<tspan dy="-1.8" font-size="3.6">+</tspan><tspan dy="1.8"> T cells (no inhibitor)</tspan></text>
<rect x="421.6" y="291.2" width="78" height="59.6" fill="#fff" stroke="#666" stroke-width="0.75"/>
<line x1="420.3" y1="350.8" x2="421.6" y2="350.8" stroke="#555" stroke-width="0.45"/>
<rect x="417.20000000000005" y="349.8" width="1.6" height="1.6" fill="#666" stroke="none" stroke-width="0.8"/>
<line x1="420.3" y1="338.88" x2="421.6" y2="338.88" stroke="#555" stroke-width="0.45"/>
<rect x="417.20000000000005" y="337.58" width="1.6" height="2.6" fill="#5a5a5a" stroke="none" stroke-width="0.8"/>
<line x1="420.3" y1="326.96000000000004" x2="421.6" y2="326.96000000000004" stroke="#555" stroke-width="0.45"/>
<rect x="417.20000000000005" y="325.66" width="1.6" height="2.6" fill="#5a5a5a" stroke="none" stroke-width="0.8"/>
<line x1="420.3" y1="315.04" x2="421.6" y2="315.04" stroke="#555" stroke-width="0.45"/>
<rect x="417.20000000000005" y="313.74" width="1.6" height="2.6" fill="#5a5a5a" stroke="none" stroke-width="0.8"/>
<line x1="420.3" y1="303.12" x2="421.6" y2="303.12" stroke="#555" stroke-width="0.45"/>
<rect x="417.20000000000005" y="301.82" width="1.6" height="2.6" fill="#5a5a5a" stroke="none" stroke-width="0.8"/>
<line x1="420.3" y1="291.2" x2="421.6" y2="291.2" stroke="#555" stroke-width="0.45"/>
<rect x="417.20000000000005" y="291.2" width="1.6" height="2.6" fill="#5a5a5a" stroke="none" stroke-width="0.8"/>
<line x1="421.6" y1="350.8" x2="421.6" y2="352.1" stroke="#555" stroke-width="0.45"/>
<rect x="420.80000000000007" y="353.0" width="3.2" height="2.0" fill="#808080" stroke="none" stroke-width="0.8"/>
<line x1="441.1" y1="350.8" x2="441.1" y2="352.1" stroke="#555" stroke-width="0.45"/>
<rect x="439.70000000000005" y="353.0" width="3.2" height="2.0" fill="#808080" stroke="none" stroke-width="0.8"/>
<line x1="460.6" y1="350.8" x2="460.6" y2="352.1" stroke="#555" stroke-width="0.45"/>
<rect x="459.20000000000005" y="353.0" width="3.2" height="2.0" fill="#808080" stroke="none" stroke-width="0.8"/>
<line x1="480.1" y1="350.8" x2="480.1" y2="352.1" stroke="#555" stroke-width="0.45"/>
<rect x="478.70000000000005" y="353.0" width="3.2" height="2.0" fill="#808080" stroke="none" stroke-width="0.8"/>
<line x1="499.6" y1="350.8" x2="499.6" y2="352.1" stroke="#555" stroke-width="0.45"/>
<rect x="497.40000000000003" y="353.0" width="3.2" height="2.0" fill="#808080" stroke="none" stroke-width="0.8"/>
<rect x="456.6" y="356.40000000000003" width="8" height="1.5" fill="#999" stroke="none" stroke-width="0.8"/>
<rect x="413.6" y="316.5" width="1.7" height="9" fill="#909090" stroke="none" stroke-width="0.8"/>
<polygon points="421.9,350.6 422.9,350 424.5,349.2 426,347.6 427.6,345.4 428.6,343 429.5,341.6 430.5,338.8 431.4,337.6 432.3,334 433.3,333.1 434,330 434.6,331 435.2,327 435.8,325.6 436.5,328.4 437.2,327.6 438,330.6 438.8,330 439.9,333.1 440.8,336 441.8,341.6 442.6,345.6 443.3,349.2 444.5,350.2 450,350.6" fill="#000"/>
<line x1="421.6" y1="306.1" x2="444" y2="306.1" stroke="#333" stroke-width="0.55"/>
<line x1="421.8" y1="304.70000000000005" x2="421.8" y2="307.5" stroke="#333" stroke-width="0.55"/>
<line x1="444" y1="304.70000000000005" x2="444" y2="307.5" stroke="#333" stroke-width="0.55"/>
<rect x="431.2" y="302.90000000000003" width="3.2" height="1.4" fill="#999" stroke="none" stroke-width="0.8"/>
<line x1="444" y1="298.5" x2="497" y2="298.5" stroke="#333" stroke-width="0.55"/>
<line x1="444" y1="297.1" x2="444" y2="299.9" stroke="#333" stroke-width="0.55"/>
<line x1="496.8" y1="297.1" x2="496.8" y2="299.9" stroke="#333" stroke-width="0.55"/>
<rect x="472.5" y="299.5" width="3.2" height="1.3" fill="#999" stroke="none" stroke-width="0.8"/>
<text x="479.6" y="307.4" font-size="5.7" text-anchor="middle" fill="#111" class="m" >1% (57)</text>
<text x="462.2" y="365.1" font-size="6" text-anchor="middle" fill="#111" textLength="53.6" lengthAdjust="spacingAndGlyphs" class="b" >CD4<tspan dy="-1.8" font-size="3.6">+</tspan><tspan dy="1.8"> T cells + CA074</tspan></text>
<rect x="421.2" y="374.8" width="78.2" height="61.4" fill="#fff" stroke="#666" stroke-width="0.75"/>
<line x1="419.9" y1="436.2" x2="421.2" y2="436.2" stroke="#555" stroke-width="0.45"/>
<rect x="416.8" y="435.2" width="1.6" height="1.6" fill="#666" stroke="none" stroke-width="0.8"/>
<line x1="419.9" y1="423.92" x2="421.2" y2="423.92" stroke="#555" stroke-width="0.45"/>
<rect x="416.8" y="422.62" width="1.6" height="2.6" fill="#5a5a5a" stroke="none" stroke-width="0.8"/>
<line x1="419.9" y1="411.64" x2="421.2" y2="411.64" stroke="#555" stroke-width="0.45"/>
<rect x="416.8" y="410.34" width="1.6" height="2.6" fill="#5a5a5a" stroke="none" stroke-width="0.8"/>
<line x1="419.9" y1="399.36" x2="421.2" y2="399.36" stroke="#555" stroke-width="0.45"/>
<rect x="416.8" y="398.06" width="1.6" height="2.6" fill="#5a5a5a" stroke="none" stroke-width="0.8"/>
<line x1="419.9" y1="387.08" x2="421.2" y2="387.08" stroke="#555" stroke-width="0.45"/>
<rect x="416.8" y="385.78" width="1.6" height="2.6" fill="#5a5a5a" stroke="none" stroke-width="0.8"/>
<line x1="419.9" y1="374.8" x2="421.2" y2="374.8" stroke="#555" stroke-width="0.45"/>
<rect x="416.8" y="374.8" width="1.6" height="2.6" fill="#5a5a5a" stroke="none" stroke-width="0.8"/>
<line x1="421.2" y1="436.2" x2="421.2" y2="437.5" stroke="#555" stroke-width="0.45"/>
<rect x="420.40000000000003" y="438.4" width="3.2" height="2.0" fill="#808080" stroke="none" stroke-width="0.8"/>
<line x1="440.75" y1="436.2" x2="440.75" y2="437.5" stroke="#555" stroke-width="0.45"/>
<rect x="439.35" y="438.4" width="3.2" height="2.0" fill="#808080" stroke="none" stroke-width="0.8"/>
<line x1="460.3" y1="436.2" x2="460.3" y2="437.5" stroke="#555" stroke-width="0.45"/>
<rect x="458.90000000000003" y="438.4" width="3.2" height="2.0" fill="#808080" stroke="none" stroke-width="0.8"/>
<line x1="479.85" y1="436.2" x2="479.85" y2="437.5" stroke="#555" stroke-width="0.45"/>
<rect x="478.45000000000005" y="438.4" width="3.2" height="2.0" fill="#808080" stroke="none" stroke-width="0.8"/>
<line x1="499.4" y1="436.2" x2="499.4" y2="437.5" stroke="#555" stroke-width="0.45"/>
<rect x="497.2" y="438.4" width="3.2" height="2.0" fill="#808080" stroke="none" stroke-width="0.8"/>
<rect x="456.3" y="441.8" width="8" height="1.5" fill="#999" stroke="none" stroke-width="0.8"/>
<rect x="413.2" y="401.0" width="1.7" height="9" fill="#909090" stroke="none" stroke-width="0.8"/>
<polygon points="421.4,436 423,435.4 425,434 426.5,433 427.6,432 429,430.8 430.2,428.6 431.4,427.3 432.5,426.4 433.4,424.4 434.2,423.5 435.2,422 436.1,419.7 436.9,417.6 437.6,415.4 438.2,416 438.6,414.4 439.2,416.6 439.9,417.2 440.8,421.6 441.7,424 442.7,427.3 443.8,430 445,432.9 446.5,434 449,434.8 454,435.6 462,436" fill="#000"/>
<line x1="421.2" y1="392.4" x2="440.8" y2="392.4" stroke="#333" stroke-width="0.55"/>
<line x1="421.4" y1="391.0" x2="421.4" y2="393.79999999999995" stroke="#333" stroke-width="0.55"/>
<line x1="440.8" y1="391.0" x2="440.8" y2="393.79999999999995" stroke="#333" stroke-width="0.55"/>
<rect x="429.4" y="389.2" width="3.2" height="1.4" fill="#999" stroke="none" stroke-width="0.8"/>
<line x1="440.8" y1="383.5" x2="497" y2="383.5" stroke="#333" stroke-width="0.55"/>
<line x1="440.8" y1="382.1" x2="440.8" y2="384.9" stroke="#333" stroke-width="0.55"/>
<line x1="496.8" y1="382.1" x2="496.8" y2="384.9" stroke="#333" stroke-width="0.55"/>
<rect x="470.9" y="384.5" width="3.2" height="1.3" fill="#999" stroke="none" stroke-width="0.8"/>
<text x="481" y="393.2" font-size="5.7" text-anchor="middle" fill="#111" class="m" >23% (161)</text>
<text x="461" y="449.6" font-size="6" text-anchor="middle" fill="#111" textLength="60.5" lengthAdjust="spacingAndGlyphs" class="b" >CD4<tspan dy="-1.8" font-size="3.6">+</tspan><tspan dy="1.8"> T cells + CLIK148</tspan></text>
</svg>
</body></html>
